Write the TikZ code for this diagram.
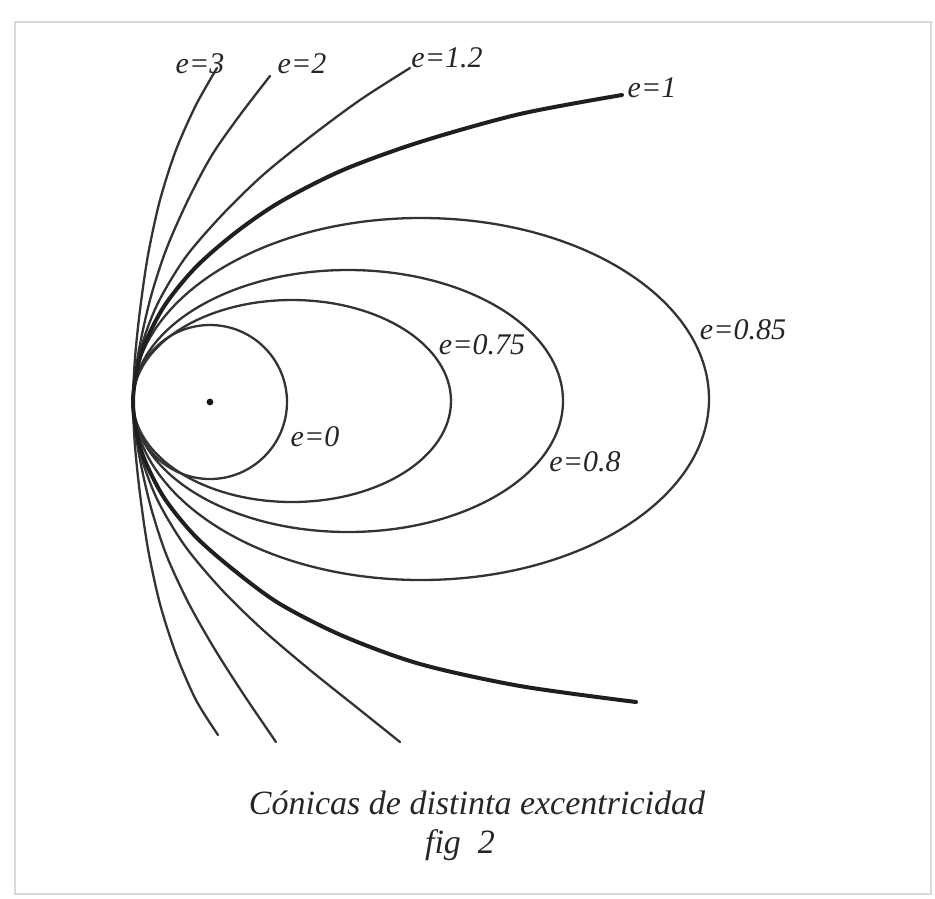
\documentclass[tikz,border=0pt]{standalone}
\usepackage{fontspec}
\setmainfont{Liberation Serif}
\begin{document}
\begin{tikzpicture}[x=1pt,y=-1pt,
  curve/.style={line width=2.3pt, black!80, line cap=round},
  thickcurve/.style={line width=4pt, black!88, line cap=round},
  lab/.style={font=\fontsize{30}{34}\selectfont\itshape, inner sep=0pt, text=black!85},
  captxt/.style={font=\fontsize{34}{40}\selectfont\itshape, inner sep=0pt, text=black!85}]
\useasboundingbox (0,0) rectangle (935,898);
\draw[black!15, line width=2.5pt] (15,22) rectangle (931,894);
% circle e=0
\draw[curve] (210,402) circle [radius=77pt];
\fill[black!90] (210,402) circle [radius=3.4pt];
% ellipses
\draw[curve] (292,401) ellipse [x radius=159pt, y radius=101pt];
\draw[curve] (348,401) ellipse [x radius=215pt, y radius=131pt];
\draw[curve] (421,399) ellipse [x radius=288pt, y radius=181pt];
% hyperbola e=3
\draw[curve] plot[smooth] coordinates {(218,735) (196,700) (176,654) (160,604) (148,549) (140,494) (135,446) (133,402) (135,358) (140,310) (148,255) (160,200) (176,150) (196,105) (217,68)};
% hyperbola e=2
\draw[curve] plot[smooth] coordinates {(276,742) (244,695) (214,648) (188,602) (166,554) (150,504) (138,449) (133,402) (138,355) (150,300) (166,250) (188,200) (212,155) (240,115) (270,76)};
% hyperbola e=1.2
\draw[curve] plot[smooth] coordinates {(400,742) (355,706) (310,670) (263,630) (222,590) (185,546) (157,499) (140,452) (133,402) (140,352) (157,305) (185,258) (222,215) (263,175) (310,137) (360,100) (410,68)};
% parabola e=1
\draw[thickcurve] plot[smooth] coordinates {(636,702) (520,686) (420,664) (343,636) (280,604) (235,571) (195,536) (163,496) (141,450) (133,402) (141,354) (163,308) (195,268) (235,233) (280,202) (343,170) (420,142) (520,114) (622,95)};
% labels
\node[lab] (l3) at (200,64) {e=3};
\node[lab] (l2) at (302,64) {e=2};
\node[lab] (l12) at (447,58) {e=1.2};
\node[lab] (l1) at (652,88) {e=1};
\node[lab] (l085) at (743,330) {e=0.85};
\node[lab] (l075) at (482,345) {e=0.75};
\node[lab] (l08) at (585,462) {e=0.8};
\node[lab] (l0) at (315,437) {e=0};
\node[captxt] (c1) at (477,803) {Cónicas de distinta excentricidad};
\node[captxt] (c2) at (460,845) {fig\ \ 2};
\end{tikzpicture}
\end{document}
